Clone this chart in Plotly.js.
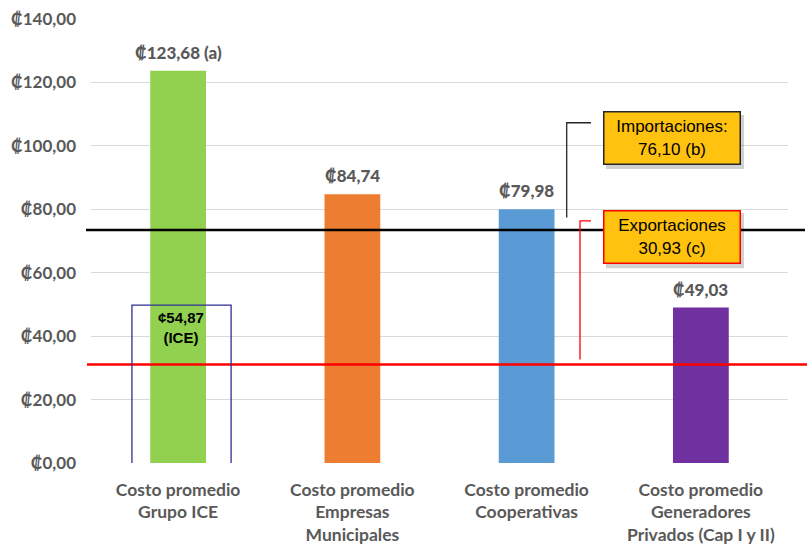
<!DOCTYPE html>
<html>
<head>
<meta charset="utf-8">
<script src="https://cdn.plot.ly/plotly-3.0.1.min.js"></script>
<style>html,body{margin:0;padding:0;background:#fff;}#chart{width:807px;height:554px;}</style>
</head>
<body>
<div id="chart"></div>
<script>
// ---- data ----
const categories = ["Costo promedio<br>Grupo ICE", "Costo promedio<br>Empresas<br>Municipales", "Costo promedio<br>Cooperativas", "Costo promedio<br>Generadores<br>Privados (Cap I y II)"];
const values = [123.68, 84.74, 79.98, 49.03];
const valueLabels = ["₡123,68 (a)", "₡84,74", "₡79,98", "₡49,03"];
const iceSubValue = 54.87;
const iceSubLabel = "¢54,87<br>(ICE)";
const importLineY = 73.5;
const exportLineY = 31.05;
const importText = "Importaciones:<br>76,10 (b)";
const exportText = "Exportaciones<br>30,93 (c)";
const tickVals = [0, 20, 40, 60, 80, 100, 120, 140];
const tickText = ["₡0,00", "₡20,00", "₡40,00", "₡60,00", "₡80,00", "₡100,00", "₡120,00", "₡140,00"];

// ---- styles ----
const barColors = ["#92D050", "#ED7D31", "#5B9BD5", "#7030A0"];
const calib = "Lato, 'Open Sans', 'DejaVu Sans', sans-serif";
const arial = "'Liberation Sans', Arial, sans-serif";

// pixel -> paper helpers (plot area 91..788 x, 19..463 y)
const L = 91, R = 788, T = 19, B = 462.7;
const px = v => (v - L) / (R - L);
const py = v => (B - v) / (B - T);

const trace = {
  type: "bar",
  x: categories,
  y: values,
  marker: {color: barColors, line: {width: 0}},
  width: 0.32,
  hoverinfo: "none"
};

const annotations = valueLabels.map((t, i) => ({
  x: categories[i], y: values[i], xref: "x", yref: "y",
  text: t, showarrow: false, yanchor: "bottom", yshift: 6,
  font: {family: calib, size: 17, color: "#595959", weight: 900}
}));

annotations.push({
  x: categories[0], y: iceSubValue * 0.8, xref: "x", yref: "y",
  text: iceSubLabel, showarrow: false, yanchor: "middle", xshift: 3, yshift: -4,
  font: {family: arial, size: 15, color: "#000", weight: "bold"}
});

annotations.push({
  x: px(671.7), y: py(138.4), xref: "paper", yref: "paper",
  text: importText, showarrow: false, xanchor: "center", yanchor: "middle",
  width: 133, height: 49, bgcolor: "#FFC20E", bordercolor: "#262626", borderwidth: 1.5,
  font: {family: arial, size: 17, color: "#000"}
});
annotations.push({
  x: px(671.7), y: py(237), xref: "paper", yref: "paper",
  text: exportText, showarrow: false, xanchor: "center", yanchor: "middle",
  width: 133, height: 49, bgcolor: "#FFC20E", bordercolor: "#FF0000", borderwidth: 1.5,
  font: {family: arial, size: 17, color: "#000"}
});

const shapes = [
  // box shadows
  {type: "rect", xref: "paper", yref: "paper", x0: px(606), x1: px(744), y0: py(115), y1: py(169),
   fillcolor: "rgba(0,0,0,0.18)", line: {width: 0}, layer: "above"},
  {type: "rect", xref: "paper", yref: "paper", x0: px(606), x1: px(744), y0: py(213), y1: py(268),
   fillcolor: "rgba(0,0,0,0.18)", line: {width: 0}, layer: "above"},
  // reference lines
  {type: "line", xref: "paper", yref: "y", x0: px(86), x1: px(805), y0: importLineY, y1: importLineY,
   line: {color: "#000", width: 2.5}, layer: "above"},
  {type: "line", xref: "paper", yref: "y", x0: px(87), x1: px(807), y0: exportLineY, y1: exportLineY,
   line: {color: "#FF0000", width: 2.5}, layer: "above"},
  // connectors
  {type: "path", xref: "paper", yref: "paper",
   path: `M ${px(591)} ${py(122.7)} L ${px(566.7)} ${py(122.7)} L ${px(566.7)} ${py(217.3)}`,
   line: {color: "#262626", width: 1.3}, layer: "above"},
  {type: "path", xref: "paper", yref: "paper",
   path: `M ${px(591)} ${py(220.7)} L ${px(580)} ${py(220.7)} L ${px(580)} ${py(359.3)}`,
   line: {color: "#FF0000", width: 1.3}, layer: "above"},
  // ICE box
  {type: "rect", xref: "x", yref: "y", x0: -0.265, x1: 0.304, y0: -0.4, y1: 49.8,
   line: {color: "#2E3192", width: 1.3}, fillcolor: "rgba(0,0,0,0)", layer: "above"}
];

const layout = {
  width: 807, height: 554,
  margin: {l: L, r: 807 - R, t: T, b: 554 - B},
  paper_bgcolor: "#fff", plot_bgcolor: "#fff",
  showlegend: false,
  xaxis: {
    type: "category", showgrid: false, showline: false, zeroline: false, ticks: "",
    tickfont: {family: calib, size: 17.5, color: "#595959", weight: "bold"},
    ticklabelstandoff: 14, fixedrange: true
  },
  yaxis: {
    range: [0, 140], tickvals: tickVals, ticktext: tickText,
    showgrid: true, gridcolor: "#D9D9D9", gridwidth: 1,
    zeroline: false, showline: false, ticks: "",
    tickfont: {family: calib, size: 17, color: "#595959", weight: "bold"},
    ticklabelstandoff: 14, fixedrange: true
  },
  annotations: annotations,
  shapes: shapes
};

Plotly.newPlot("chart", [trace], layout, {displayModeBar: false, staticPlot: true});
</script>
</body>
</html>
